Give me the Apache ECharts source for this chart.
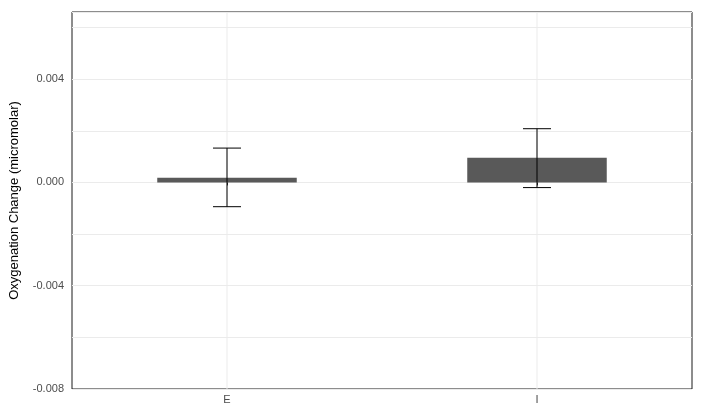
<!DOCTYPE html>
<html><head><meta charset="utf-8">
<script src="https://cdn.jsdelivr.net/npm/echarts@6/dist/echarts.min.js"></script>
<style>html,body{margin:0;padding:0;background:#fff}#c{width:703px;height:413px}</style>
</head><body><div id="c"></div>
<script>
const categories = ['E', 'I'];
const means = [0.00018, 0.00096];
const upper = [0.00133, 0.00208];
const lower = [-0.00094, -0.00020];

const chart = echarts.init(document.getElementById('c'));
chart.setOption({
  animation: false,
  grid: {left: 70, right: 11, top: 12, bottom: 24, show: true, borderColor: '#1a1a1a', borderWidth: 1, backgroundColor: '#fff'},
  xAxis: {
    type: 'category', data: categories,
    axisLine: {show: false},
    axisTick: {show: true, alignWithLabel: true, length: 3, lineStyle: {color: '#333'}},
    axisLabel: {color: '#4d4d4d', fontSize: 11, fontFamily: 'Liberation Sans, Arial', margin: 5},
    splitLine: {show: false}
  },
  yAxis: {
    type: 'value', min: -0.008, max: 0.0066, interval: 0.002,
    name: 'Oxygenation Change (micromolar)', nameLocation: 'middle', nameGap: 51,
    nameTextStyle: {color: '#000', fontSize: 13, fontFamily: 'Liberation Sans, Arial'},
    axisLine: {show: false},
    axisTick: {show: false},
    axisLabel: {color: '#4d4d4d', fontSize: 11, fontFamily: 'Liberation Sans, Arial', margin: 8,
      formatter: v => { const r = v / 0.004; return Math.abs(r - Math.round(r)) < 1e-6 ? v.toFixed(3) : ''; }},
    splitLine: {show: true, lineStyle: {color: '#ebebeb'}}
  },
  series: [
    {type: 'custom', data: categories.map((c, i) => [i]), z: 0, silent: true,
      renderItem: (params, api) => {
        const x = api.coord([api.value(0), 0])[0];
        const cs = params.coordSys;
        return {type: 'line', shape: {x1: x, y1: cs.y, x2: x, y2: cs.y + cs.height}, style: {stroke: '#ebebeb', lineWidth: 1}};
      }},
    {type: 'bar', data: means, barWidth: '45%', z: 2, itemStyle: {color: '#595959'}},
    {type: 'custom', data: categories.map((c, i) => [i, lower[i], upper[i]]), z: 10,
      renderItem: (params, api) => {
        const x = api.value(0);
        const lo = api.coord([x, api.value(1)]);
        const hi = api.coord([x, api.value(2)]);
        const hw = 14;
        const st = {stroke: '#000', lineWidth: 1};
        return {type: 'group', children: [
          {type: 'line', shape: {x1: lo[0], y1: lo[1], x2: hi[0], y2: hi[1]}, style: st},
          {type: 'line', shape: {x1: lo[0]-hw, y1: lo[1], x2: lo[0]+hw, y2: lo[1]}, style: st},
          {type: 'line', shape: {x1: hi[0]-hw, y1: hi[1], x2: hi[0]+hw, y2: hi[1]}, style: st}
        ]};
      }}
  ]
});
</script></body></html>
